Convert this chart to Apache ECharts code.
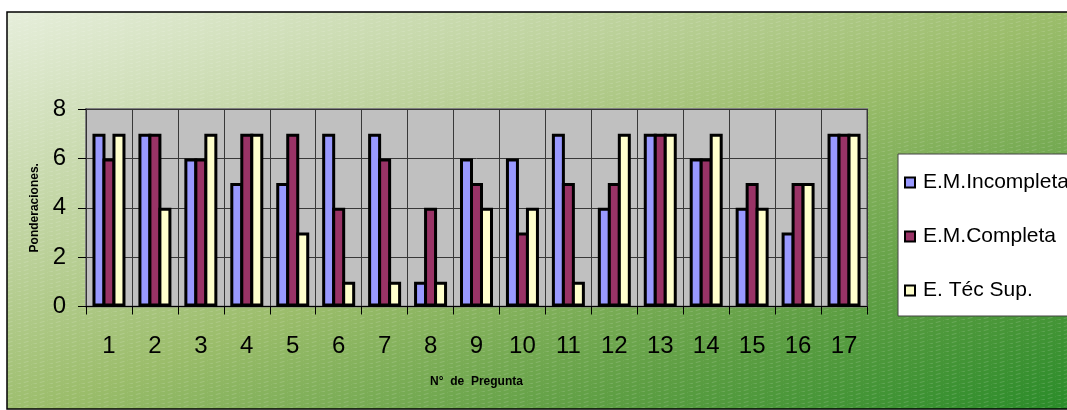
<!DOCTYPE html>
<html>
<head>
<meta charset="utf-8">
<script src="https://cdn.jsdelivr.net/npm/echarts@6/dist/echarts.min.js"></script>
<style>
  html, body { margin: 0; padding: 0; background: #ffffff; }
  #chart { width: 1067px; height: 410px; }
</style>
</head>
<body>
<div id="chart"></div>
<script>
// Question numbers along the x axis
const categories = ['1','2','3','4','5','6','7','8','9','10','11','12','13','14','15','16','17'];

// Scores per question for each group
const emIncompleta = [7, 7, 6, 5, 5, 7, 7, 1, 6, 6, 7, 4, 7, 6, 4, 3, 7];
const emCompleta   = [6, 7, 6, 7, 7, 4, 6, 4, 5, 3, 5, 5, 7, 6, 5, 5, 7];
const etecSup      = [7, 4, 7, 7, 3, 1, 1, 1, 4, 4, 1, 7, 7, 7, 4, 5, 7];

const seriesNames = ['E.M.Incompleta', 'E.M.Completa', 'E. Téc Sup.'];
const seriesColors = ['#9999FF', '#993366', '#FFFFCC'];

const yMin = 0, yMax = 8, yStep = 2;

const FONT = "'Liberation Sans', Arial, sans-serif";

// Fine slanted texture laid over the green background
function makeTexture() {
  const c = document.createElement('canvas');
  c.width = 16; c.height = 4;
  const g = c.getContext('2d');
  g.strokeStyle = 'rgba(255,255,255,0.16)';
  g.lineWidth = 1;
  g.setLineDash([5, 3]);
  g.beginPath();
  g.moveTo(0, 4.5);
  g.lineTo(16, 0.5);
  g.stroke();
  return c;
}

const chart = echarts.init(document.getElementById('chart'), null, { renderer: 'canvas' });

const seriesData = [emIncompleta, emCompleta, etecSup];

// Bars share one outline: each bar overlaps its neighbour by one border width
const BAR_BORDER = 3;
const BAR_WIDTH = 13;

const option = {
  animation: false,
  backgroundColor: '#ffffff',
  graphic: [
    {
      type: 'rect',
      z: -10,
      silent: true,
      shape: { x: 7, y: 12, width: 1080, height: 397 },
      style: {
        fill: {
          type: 'linear', global: true,
          x: 7, y: 12, x2: 281, y2: 726,
          colorStops: [
            { offset: 0, color: '#e6eedb' },
            { offset: 0.3, color: '#bdd29c' },
            { offset: 0.5, color: '#9bbd6b' },
            { offset: 0.75, color: '#5f9f44' },
            { offset: 1, color: '#268a27' }
          ]
        },
        stroke: '#000000',
        lineWidth: 1.5
      }
    },
    {
      type: 'rect',
      z: -9,
      silent: true,
      shape: { x: 8, y: 13, width: 1080, height: 395 },
      style: { fill: { image: makeTexture(), repeat: 'repeat' } }
    }
  ],
  grid: {
    left: 86, right: 200, top: 109, bottom: 103.5,
    show: true,
    backgroundColor: '#C0C0C0',
    borderColor: '#808080',
    borderWidth: 2
  },
  legend: {
    orient: 'vertical',
    left: 898, top: 154,
    padding: [18, 40, 15, 6],
    itemGap: 33,
    itemWidth: 10, itemHeight: 10,
    backgroundColor: '#ffffff',
    borderColor: '#444444',
    borderWidth: 1,
    borderRadius: 0,
    icon: 'rect',
    itemStyle: { borderColor: '#000', borderWidth: 2 },
    textStyle: { fontFamily: FONT, fontSize: 21, color: '#000', lineHeight: 20, padding: [0, 0, 0, 3] },
    data: seriesNames
  },
  xAxis: {
    type: 'category',
    data: categories,
    boundaryGap: true,
    name: 'N°  de  Pregunta',
    nameLocation: 'middle',
    nameGap: 69,
    nameTextStyle: { fontFamily: FONT, fontSize: 12, fontWeight: 'bold', color: '#000', verticalAlign: 'top' },
    axisLine: { show: true, lineStyle: { color: '#000', width: 1 } },
    axisTick: { show: true, length: 8, lineStyle: { color: '#000' } },
    axisLabel: { fontFamily: FONT, fontSize: 24, color: '#000', margin: 28 },
    splitLine: { show: true, lineStyle: { color: '#383838', width: 1 } }
  },
  yAxis: {
    type: 'value',
    min: yMin, max: yMax, interval: yStep,
    name: 'Ponderaciones.',
    nameLocation: 'middle',
    nameGap: 45,
    nameTextStyle: { fontFamily: FONT, fontSize: 12, fontWeight: 'bold', color: '#000' },
    axisLine: { show: true, lineStyle: { color: '#333', width: 1 } },
    axisTick: { show: true, length: 8, lineStyle: { color: '#000' } },
    axisLabel: { fontFamily: FONT, fontSize: 24, color: '#000', margin: 20 },
    splitLine: { show: true, lineStyle: { color: '#383838', width: 1 } }
  },
  series: seriesNames.map((name, i) => ({
    name: name,
    type: 'bar',
    data: seriesData[i],
    barWidth: BAR_WIDTH,
    barGap: (-BAR_BORDER / BAR_WIDTH * 100).toFixed(1) + '%',
    itemStyle: { color: seriesColors[i], borderColor: '#000000', borderWidth: BAR_BORDER }
  }))
};

chart.setOption(option);
</script>
</body>
</html>
